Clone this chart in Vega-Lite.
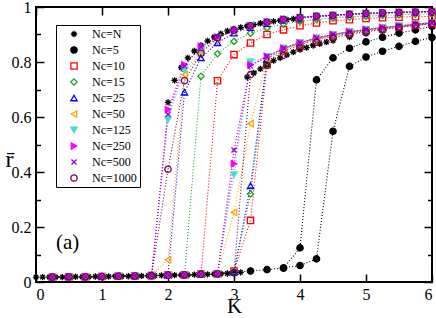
{
"$schema": "https://vega.github.io/schema/vega-lite/v6.json",
"width": 396, "height": 275,
"autosize": "none",
"padding": {"left": 36, "top": 7, "right": 4, "bottom": 36},
"background": "white",
"config": {
 "view": {"stroke": "black", "strokeWidth": 2},
 "axis": {"domain": false, "grid": false, "labelFont": "Liberation Serif", "labelFontSize": 16, "labelColor": "black", "tickColor": "black", "tickWidth": 1.5, "titleFont": "Liberation Serif", "titleFontWeight": "normal", "titleColor": "black"},
 "legend": {"strokeColor": "black", "strokeWidth": 1, "fillColor": "white", "padding": 3, "labelFont": "Liberation Serif", "labelFontSize": 12, "labelColor": "black", "symbolSize": 40, "symbolStrokeWidth": 1.3, "rowPadding": 4, "labelOffset": 12, "symbolOffset": 9}
},
"datasets": {"curves": [
{"Nc":"N","dir":"f","K":0,"r":0.018},{"Nc":"N","dir":"f","K":0.1,"r":0.018},{"Nc":"N","dir":"f","K":0.2,"r":0.018},{"Nc":"N","dir":"f","K":0.3,"r":0.018},{"Nc":"N","dir":"f","K":0.4,"r":0.018},{"Nc":"N","dir":"f","K":0.5,"r":0.019},{"Nc":"N","dir":"f","K":0.6,"r":0.019},{"Nc":"N","dir":"f","K":0.7,"r":0.019},{"Nc":"N","dir":"f","K":0.8,"r":0.019},{"Nc":"N","dir":"f","K":0.9,"r":0.02},{"Nc":"N","dir":"f","K":1.0,"r":0.02},{"Nc":"N","dir":"f","K":1.1,"r":0.02},{"Nc":"N","dir":"f","K":1.2,"r":0.021},{"Nc":"N","dir":"f","K":1.3,"r":0.021},{"Nc":"N","dir":"f","K":1.4,"r":0.021},{"Nc":"N","dir":"f","K":1.5,"r":0.022},{"Nc":"N","dir":"f","K":1.6,"r":0.022},{"Nc":"N","dir":"f","K":1.7,"r":0.023},{"Nc":"N","dir":"f","K":1.8,"r":0.023},{"Nc":"N","dir":"f","K":1.9,"r":0.024},{"Nc":"N","dir":"f","K":2.0,"r":0.025},{"Nc":"N","dir":"f","K":2.1,"r":0.025},{"Nc":"N","dir":"f","K":2.2,"r":0.026},{"Nc":"N","dir":"f","K":2.3,"r":0.026},{"Nc":"N","dir":"f","K":2.4,"r":0.027},{"Nc":"N","dir":"f","K":2.5,"r":0.028},{"Nc":"N","dir":"f","K":2.6,"r":0.028},{"Nc":"N","dir":"f","K":2.7,"r":0.029},{"Nc":"N","dir":"f","K":2.8,"r":0.03},{"Nc":"N","dir":"f","K":2.9,"r":0.031},{"Nc":"N","dir":"f","K":3.0,"r":0.033},{"Nc":"N","dir":"f","K":3.1,"r":0.035},
{"Nc":"N","dir":"f","K":3.2,"r":0.745},{"Nc":"N","dir":"f","K":3.3,"r":0.76},{"Nc":"N","dir":"f","K":3.4,"r":0.775},{"Nc":"N","dir":"f","K":3.5,"r":0.79},{"Nc":"N","dir":"f","K":3.6,"r":0.805},{"Nc":"N","dir":"f","K":3.7,"r":0.815},{"Nc":"N","dir":"f","K":3.8,"r":0.826},{"Nc":"N","dir":"f","K":3.9,"r":0.836},{"Nc":"N","dir":"f","K":4.0,"r":0.845},{"Nc":"N","dir":"f","K":4.1,"r":0.852},{"Nc":"N","dir":"f","K":4.2,"r":0.86},{"Nc":"N","dir":"f","K":4.3,"r":0.866},{"Nc":"N","dir":"f","K":4.4,"r":0.872},{"Nc":"N","dir":"f","K":4.5,"r":0.878},{"Nc":"N","dir":"f","K":4.75,"r":0.891},{"Nc":"N","dir":"f","K":5.0,"r":0.903},{"Nc":"N","dir":"f","K":5.25,"r":0.913},{"Nc":"N","dir":"f","K":5.5,"r":0.921},{"Nc":"N","dir":"f","K":5.75,"r":0.929},{"Nc":"N","dir":"f","K":6.0,"r":0.936},
{"Nc":"N","dir":"b","K":2.0,"r":0.653},{"Nc":"N","dir":"b","K":2.1,"r":0.733},{"Nc":"N","dir":"b","K":2.2,"r":0.78},{"Nc":"N","dir":"b","K":2.3,"r":0.815},{"Nc":"N","dir":"b","K":2.4,"r":0.84},{"Nc":"N","dir":"b","K":2.5,"r":0.86},{"Nc":"N","dir":"b","K":2.6,"r":0.877},{"Nc":"N","dir":"b","K":2.7,"r":0.891},{"Nc":"N","dir":"b","K":2.8,"r":0.903},{"Nc":"N","dir":"b","K":2.9,"r":0.913},{"Nc":"N","dir":"b","K":3.0,"r":0.92},{"Nc":"N","dir":"b","K":3.1,"r":0.926},{"Nc":"N","dir":"b","K":3.2,"r":0.931},{"Nc":"N","dir":"b","K":3.3,"r":0.936},{"Nc":"N","dir":"b","K":3.4,"r":0.941},{"Nc":"N","dir":"b","K":3.5,"r":0.945},{"Nc":"N","dir":"b","K":3.6,"r":0.948},{"Nc":"N","dir":"b","K":3.7,"r":0.951},{"Nc":"N","dir":"b","K":3.8,"r":0.954},{"Nc":"N","dir":"b","K":3.9,"r":0.957},{"Nc":"N","dir":"b","K":4.0,"r":0.96},{"Nc":"N","dir":"b","K":4.25,"r":0.966},{"Nc":"N","dir":"b","K":4.5,"r":0.97},{"Nc":"N","dir":"b","K":4.75,"r":0.974},{"Nc":"N","dir":"b","K":5.0,"r":0.977},{"Nc":"N","dir":"b","K":5.25,"r":0.979},{"Nc":"N","dir":"b","K":5.5,"r":0.981},{"Nc":"N","dir":"b","K":5.75,"r":0.982},{"Nc":"N","dir":"b","K":6.0,"r":0.984},

{"Nc":"5","dir":"f","K":0.25,"r":0.018},{"Nc":"5","dir":"f","K":0.5,"r":0.019},{"Nc":"5","dir":"f","K":0.75,"r":0.019},{"Nc":"5","dir":"f","K":1.0,"r":0.02},{"Nc":"5","dir":"f","K":1.25,"r":0.021},{"Nc":"5","dir":"f","K":1.5,"r":0.022},{"Nc":"5","dir":"f","K":1.75,"r":0.023},{"Nc":"5","dir":"f","K":2.0,"r":0.025},{"Nc":"5","dir":"f","K":2.25,"r":0.026},{"Nc":"5","dir":"f","K":2.5,"r":0.028},{"Nc":"5","dir":"f","K":2.75,"r":0.03},{"Nc":"5","dir":"f","K":3.0,"r":0.035},{"Nc":"5","dir":"f","K":3.25,"r":0.04},{"Nc":"5","dir":"f","K":3.5,"r":0.045},{"Nc":"5","dir":"f","K":3.75,"r":0.051},{"Nc":"5","dir":"f","K":4.0,"r":0.06},{"Nc":"5","dir":"f","K":4.25,"r":0.084},{"Nc":"5","dir":"f","K":4.5,"r":0.548},{"Nc":"5","dir":"f","K":4.75,"r":0.784},{"Nc":"5","dir":"f","K":5.0,"r":0.818},{"Nc":"5","dir":"f","K":5.25,"r":0.839},{"Nc":"5","dir":"f","K":5.5,"r":0.857},{"Nc":"5","dir":"f","K":5.75,"r":0.875},{"Nc":"5","dir":"f","K":6.0,"r":0.889},
{"Nc":"5","dir":"b","K":3.75,"r":0.051},{"Nc":"5","dir":"b","K":4.0,"r":0.124},{"Nc":"5","dir":"b","K":4.25,"r":0.735},{"Nc":"5","dir":"b","K":4.5,"r":0.815},{"Nc":"5","dir":"b","K":4.75,"r":0.85},{"Nc":"5","dir":"b","K":5.0,"r":0.873},{"Nc":"5","dir":"b","K":5.25,"r":0.89},{"Nc":"5","dir":"b","K":5.5,"r":0.905},{"Nc":"5","dir":"b","K":5.75,"r":0.917},{"Nc":"5","dir":"b","K":6.0,"r":0.93},

{"Nc":"10","dir":"f","K":0.25,"r":0.018},{"Nc":"10","dir":"f","K":0.5,"r":0.019},{"Nc":"10","dir":"f","K":0.75,"r":0.019},{"Nc":"10","dir":"f","K":1.0,"r":0.02},{"Nc":"10","dir":"f","K":1.25,"r":0.021},{"Nc":"10","dir":"f","K":1.5,"r":0.022},{"Nc":"10","dir":"f","K":1.75,"r":0.023},{"Nc":"10","dir":"f","K":2.0,"r":0.025},{"Nc":"10","dir":"f","K":2.25,"r":0.026},{"Nc":"10","dir":"f","K":2.5,"r":0.028},{"Nc":"10","dir":"f","K":2.75,"r":0.03},{"Nc":"10","dir":"f","K":3.0,"r":0.04},{"Nc":"10","dir":"f","K":3.25,"r":0.224},{"Nc":"10","dir":"f","K":3.5,"r":0.79},{"Nc":"10","dir":"f","K":3.75,"r":0.84},{"Nc":"10","dir":"f","K":4.0,"r":0.862},{"Nc":"10","dir":"f","K":4.25,"r":0.88},{"Nc":"10","dir":"f","K":4.5,"r":0.894},{"Nc":"10","dir":"f","K":4.75,"r":0.905},{"Nc":"10","dir":"f","K":5.0,"r":0.913},{"Nc":"10","dir":"f","K":5.25,"r":0.92},{"Nc":"10","dir":"f","K":5.5,"r":0.927},{"Nc":"10","dir":"f","K":5.75,"r":0.933},{"Nc":"10","dir":"f","K":6.0,"r":0.939},
{"Nc":"10","dir":"b","K":2.5,"r":0.028},{"Nc":"10","dir":"b","K":2.75,"r":0.732},{"Nc":"10","dir":"b","K":3.0,"r":0.827},{"Nc":"10","dir":"b","K":3.25,"r":0.869},{"Nc":"10","dir":"b","K":3.5,"r":0.9},{"Nc":"10","dir":"b","K":3.75,"r":0.917},{"Nc":"10","dir":"b","K":4.0,"r":0.932},{"Nc":"10","dir":"b","K":4.25,"r":0.942},{"Nc":"10","dir":"b","K":4.5,"r":0.95},{"Nc":"10","dir":"b","K":4.75,"r":0.954},{"Nc":"10","dir":"b","K":5.0,"r":0.958},{"Nc":"10","dir":"b","K":5.25,"r":0.961},{"Nc":"10","dir":"b","K":5.5,"r":0.963},{"Nc":"10","dir":"b","K":5.75,"r":0.965},{"Nc":"10","dir":"b","K":6.0,"r":0.966},

{"Nc":"15","dir":"f","K":0.25,"r":0.018},{"Nc":"15","dir":"f","K":0.5,"r":0.019},{"Nc":"15","dir":"f","K":0.75,"r":0.019},{"Nc":"15","dir":"f","K":1.0,"r":0.02},{"Nc":"15","dir":"f","K":1.25,"r":0.021},{"Nc":"15","dir":"f","K":1.5,"r":0.022},{"Nc":"15","dir":"f","K":1.75,"r":0.023},{"Nc":"15","dir":"f","K":2.0,"r":0.025},{"Nc":"15","dir":"f","K":2.25,"r":0.026},{"Nc":"15","dir":"f","K":2.5,"r":0.028},{"Nc":"15","dir":"f","K":2.75,"r":0.03},{"Nc":"15","dir":"f","K":3.0,"r":0.038},{"Nc":"15","dir":"f","K":3.25,"r":0.32},{"Nc":"15","dir":"f","K":3.5,"r":0.8},{"Nc":"15","dir":"f","K":3.75,"r":0.845},{"Nc":"15","dir":"f","K":4.0,"r":0.866},{"Nc":"15","dir":"f","K":4.25,"r":0.884},{"Nc":"15","dir":"f","K":4.5,"r":0.897},{"Nc":"15","dir":"f","K":4.75,"r":0.907},{"Nc":"15","dir":"f","K":5.0,"r":0.916},{"Nc":"15","dir":"f","K":5.25,"r":0.923},{"Nc":"15","dir":"f","K":5.5,"r":0.93},{"Nc":"15","dir":"f","K":5.75,"r":0.936},{"Nc":"15","dir":"f","K":6.0,"r":0.941},
{"Nc":"15","dir":"b","K":2.25,"r":0.026},{"Nc":"15","dir":"b","K":2.5,"r":0.748},{"Nc":"15","dir":"b","K":2.75,"r":0.83},{"Nc":"15","dir":"b","K":3.0,"r":0.875},{"Nc":"15","dir":"b","K":3.25,"r":0.905},{"Nc":"15","dir":"b","K":3.5,"r":0.924},{"Nc":"15","dir":"b","K":3.75,"r":0.938},{"Nc":"15","dir":"b","K":4.0,"r":0.948},{"Nc":"15","dir":"b","K":4.25,"r":0.955},{"Nc":"15","dir":"b","K":4.5,"r":0.96},{"Nc":"15","dir":"b","K":4.75,"r":0.964},{"Nc":"15","dir":"b","K":5.0,"r":0.967},{"Nc":"15","dir":"b","K":5.25,"r":0.97},{"Nc":"15","dir":"b","K":5.5,"r":0.972},{"Nc":"15","dir":"b","K":5.75,"r":0.974},{"Nc":"15","dir":"b","K":6.0,"r":0.975},

{"Nc":"25","dir":"f","K":0.25,"r":0.018},{"Nc":"25","dir":"f","K":0.5,"r":0.019},{"Nc":"25","dir":"f","K":0.75,"r":0.019},{"Nc":"25","dir":"f","K":1.0,"r":0.02},{"Nc":"25","dir":"f","K":1.25,"r":0.021},{"Nc":"25","dir":"f","K":1.5,"r":0.022},{"Nc":"25","dir":"f","K":1.75,"r":0.023},{"Nc":"25","dir":"f","K":2.0,"r":0.025},{"Nc":"25","dir":"f","K":2.25,"r":0.026},{"Nc":"25","dir":"f","K":2.5,"r":0.028},{"Nc":"25","dir":"f","K":2.75,"r":0.03},{"Nc":"25","dir":"f","K":3.0,"r":0.036},{"Nc":"25","dir":"f","K":3.25,"r":0.35},{"Nc":"25","dir":"f","K":3.5,"r":0.81},{"Nc":"25","dir":"f","K":3.75,"r":0.85},{"Nc":"25","dir":"f","K":4.0,"r":0.87},{"Nc":"25","dir":"f","K":4.25,"r":0.887},{"Nc":"25","dir":"f","K":4.5,"r":0.9},{"Nc":"25","dir":"f","K":4.75,"r":0.91},{"Nc":"25","dir":"f","K":5.0,"r":0.918},{"Nc":"25","dir":"f","K":5.25,"r":0.925},{"Nc":"25","dir":"f","K":5.5,"r":0.931},{"Nc":"25","dir":"f","K":5.75,"r":0.937},{"Nc":"25","dir":"f","K":6.0,"r":0.943},
{"Nc":"25","dir":"b","K":2.0,"r":0.025},{"Nc":"25","dir":"b","K":2.25,"r":0.69},{"Nc":"25","dir":"b","K":2.5,"r":0.815},{"Nc":"25","dir":"b","K":2.75,"r":0.87},{"Nc":"25","dir":"b","K":3.0,"r":0.905},{"Nc":"25","dir":"b","K":3.25,"r":0.925},{"Nc":"25","dir":"b","K":3.5,"r":0.94},{"Nc":"25","dir":"b","K":3.75,"r":0.951},{"Nc":"25","dir":"b","K":4.0,"r":0.959},{"Nc":"25","dir":"b","K":4.25,"r":0.964},{"Nc":"25","dir":"b","K":4.5,"r":0.968},{"Nc":"25","dir":"b","K":4.75,"r":0.972},{"Nc":"25","dir":"b","K":5.0,"r":0.975},{"Nc":"25","dir":"b","K":5.25,"r":0.977},{"Nc":"25","dir":"b","K":5.5,"r":0.979},{"Nc":"25","dir":"b","K":5.75,"r":0.98},{"Nc":"25","dir":"b","K":6.0,"r":0.982},

{"Nc":"50","dir":"f","K":0.25,"r":0.018},{"Nc":"50","dir":"f","K":0.5,"r":0.019},{"Nc":"50","dir":"f","K":0.75,"r":0.019},{"Nc":"50","dir":"f","K":1.0,"r":0.02},{"Nc":"50","dir":"f","K":1.25,"r":0.021},{"Nc":"50","dir":"f","K":1.5,"r":0.022},{"Nc":"50","dir":"f","K":1.75,"r":0.023},{"Nc":"50","dir":"f","K":2.0,"r":0.025},{"Nc":"50","dir":"f","K":2.25,"r":0.026},{"Nc":"50","dir":"f","K":2.5,"r":0.028},{"Nc":"50","dir":"f","K":2.75,"r":0.03},{"Nc":"50","dir":"f","K":3.0,"r":0.253},{"Nc":"50","dir":"f","K":3.25,"r":0.576},{"Nc":"50","dir":"f","K":3.5,"r":0.81},{"Nc":"50","dir":"f","K":3.75,"r":0.85},{"Nc":"50","dir":"f","K":4.0,"r":0.87},{"Nc":"50","dir":"f","K":4.25,"r":0.887},{"Nc":"50","dir":"f","K":4.5,"r":0.9},{"Nc":"50","dir":"f","K":4.75,"r":0.91},{"Nc":"50","dir":"f","K":5.0,"r":0.918},{"Nc":"50","dir":"f","K":5.25,"r":0.925},{"Nc":"50","dir":"f","K":5.5,"r":0.931},{"Nc":"50","dir":"f","K":5.75,"r":0.937},{"Nc":"50","dir":"f","K":6.0,"r":0.943},
{"Nc":"50","dir":"b","K":1.75,"r":0.023},{"Nc":"50","dir":"b","K":2.0,"r":0.081},{"Nc":"50","dir":"b","K":2.25,"r":0.754},{"Nc":"50","dir":"b","K":2.5,"r":0.838},{"Nc":"50","dir":"b","K":2.75,"r":0.885},{"Nc":"50","dir":"b","K":3.0,"r":0.913},{"Nc":"50","dir":"b","K":3.25,"r":0.931},{"Nc":"50","dir":"b","K":3.5,"r":0.944},{"Nc":"50","dir":"b","K":3.75,"r":0.954},{"Nc":"50","dir":"b","K":4.0,"r":0.961},{"Nc":"50","dir":"b","K":4.25,"r":0.966},{"Nc":"50","dir":"b","K":4.5,"r":0.97},{"Nc":"50","dir":"b","K":4.75,"r":0.974},{"Nc":"50","dir":"b","K":5.0,"r":0.977},{"Nc":"50","dir":"b","K":5.25,"r":0.979},{"Nc":"50","dir":"b","K":5.5,"r":0.981},{"Nc":"50","dir":"b","K":5.75,"r":0.982},{"Nc":"50","dir":"b","K":6.0,"r":0.984},

{"Nc":"125","dir":"f","K":0.25,"r":0.018},{"Nc":"125","dir":"f","K":0.5,"r":0.019},{"Nc":"125","dir":"f","K":0.75,"r":0.019},{"Nc":"125","dir":"f","K":1.0,"r":0.02},{"Nc":"125","dir":"f","K":1.25,"r":0.021},{"Nc":"125","dir":"f","K":1.5,"r":0.022},{"Nc":"125","dir":"f","K":1.75,"r":0.023},{"Nc":"125","dir":"f","K":2.0,"r":0.025},{"Nc":"125","dir":"f","K":2.25,"r":0.026},{"Nc":"125","dir":"f","K":2.5,"r":0.028},{"Nc":"125","dir":"f","K":2.75,"r":0.03},{"Nc":"125","dir":"f","K":3.0,"r":0.39},{"Nc":"125","dir":"f","K":3.25,"r":0.8},{"Nc":"125","dir":"f","K":3.5,"r":0.82},{"Nc":"125","dir":"f","K":3.75,"r":0.85},{"Nc":"125","dir":"f","K":4.0,"r":0.87},{"Nc":"125","dir":"f","K":4.25,"r":0.887},{"Nc":"125","dir":"f","K":4.5,"r":0.9},{"Nc":"125","dir":"f","K":4.75,"r":0.91},{"Nc":"125","dir":"f","K":5.0,"r":0.918},{"Nc":"125","dir":"f","K":5.25,"r":0.925},{"Nc":"125","dir":"f","K":5.5,"r":0.931},{"Nc":"125","dir":"f","K":5.75,"r":0.937},{"Nc":"125","dir":"f","K":6.0,"r":0.943},
{"Nc":"125","dir":"b","K":1.75,"r":0.023},{"Nc":"125","dir":"b","K":2.0,"r":0.59},{"Nc":"125","dir":"b","K":2.25,"r":0.77},{"Nc":"125","dir":"b","K":2.5,"r":0.845},{"Nc":"125","dir":"b","K":2.75,"r":0.89},{"Nc":"125","dir":"b","K":3.0,"r":0.915},{"Nc":"125","dir":"b","K":3.25,"r":0.932},{"Nc":"125","dir":"b","K":3.5,"r":0.945},{"Nc":"125","dir":"b","K":3.75,"r":0.955},{"Nc":"125","dir":"b","K":4.0,"r":0.962},{"Nc":"125","dir":"b","K":4.25,"r":0.967},{"Nc":"125","dir":"b","K":4.5,"r":0.97},{"Nc":"125","dir":"b","K":4.75,"r":0.974},{"Nc":"125","dir":"b","K":5.0,"r":0.977},{"Nc":"125","dir":"b","K":5.25,"r":0.979},{"Nc":"125","dir":"b","K":5.5,"r":0.981},{"Nc":"125","dir":"b","K":5.75,"r":0.982},{"Nc":"125","dir":"b","K":6.0,"r":0.984},

{"Nc":"250","dir":"f","K":0.25,"r":0.018},{"Nc":"250","dir":"f","K":0.5,"r":0.019},{"Nc":"250","dir":"f","K":0.75,"r":0.019},{"Nc":"250","dir":"f","K":1.0,"r":0.02},{"Nc":"250","dir":"f","K":1.25,"r":0.021},{"Nc":"250","dir":"f","K":1.5,"r":0.022},{"Nc":"250","dir":"f","K":1.75,"r":0.023},{"Nc":"250","dir":"f","K":2.0,"r":0.025},{"Nc":"250","dir":"f","K":2.25,"r":0.026},{"Nc":"250","dir":"f","K":2.5,"r":0.028},{"Nc":"250","dir":"f","K":2.75,"r":0.03},{"Nc":"250","dir":"f","K":3.0,"r":0.43},{"Nc":"250","dir":"f","K":3.25,"r":0.79},{"Nc":"250","dir":"f","K":3.5,"r":0.82},{"Nc":"250","dir":"f","K":3.75,"r":0.85},{"Nc":"250","dir":"f","K":4.0,"r":0.87},{"Nc":"250","dir":"f","K":4.25,"r":0.887},{"Nc":"250","dir":"f","K":4.5,"r":0.9},{"Nc":"250","dir":"f","K":4.75,"r":0.91},{"Nc":"250","dir":"f","K":5.0,"r":0.918},{"Nc":"250","dir":"f","K":5.25,"r":0.925},{"Nc":"250","dir":"f","K":5.5,"r":0.931},{"Nc":"250","dir":"f","K":5.75,"r":0.937},{"Nc":"250","dir":"f","K":6.0,"r":0.943},
{"Nc":"250","dir":"b","K":1.75,"r":0.023},{"Nc":"250","dir":"b","K":2.0,"r":0.627},{"Nc":"250","dir":"b","K":2.25,"r":0.79},{"Nc":"250","dir":"b","K":2.5,"r":0.857},{"Nc":"250","dir":"b","K":2.75,"r":0.89},{"Nc":"250","dir":"b","K":3.0,"r":0.915},{"Nc":"250","dir":"b","K":3.25,"r":0.932},{"Nc":"250","dir":"b","K":3.5,"r":0.945},{"Nc":"250","dir":"b","K":3.75,"r":0.955},{"Nc":"250","dir":"b","K":4.0,"r":0.962},{"Nc":"250","dir":"b","K":4.25,"r":0.967},{"Nc":"250","dir":"b","K":4.5,"r":0.97},{"Nc":"250","dir":"b","K":4.75,"r":0.974},{"Nc":"250","dir":"b","K":5.0,"r":0.977},{"Nc":"250","dir":"b","K":5.25,"r":0.979},{"Nc":"250","dir":"b","K":5.5,"r":0.981},{"Nc":"250","dir":"b","K":5.75,"r":0.982},{"Nc":"250","dir":"b","K":6.0,"r":0.984},

{"Nc":"500","dir":"f","K":0.25,"r":0.018},{"Nc":"500","dir":"f","K":0.5,"r":0.019},{"Nc":"500","dir":"f","K":0.75,"r":0.019},{"Nc":"500","dir":"f","K":1.0,"r":0.02},{"Nc":"500","dir":"f","K":1.25,"r":0.021},{"Nc":"500","dir":"f","K":1.5,"r":0.022},{"Nc":"500","dir":"f","K":1.75,"r":0.023},{"Nc":"500","dir":"f","K":2.0,"r":0.025},{"Nc":"500","dir":"f","K":2.25,"r":0.026},{"Nc":"500","dir":"f","K":2.5,"r":0.028},{"Nc":"500","dir":"f","K":2.75,"r":0.03},{"Nc":"500","dir":"f","K":3.0,"r":0.48},{"Nc":"500","dir":"f","K":3.25,"r":0.785},{"Nc":"500","dir":"f","K":3.5,"r":0.82},{"Nc":"500","dir":"f","K":3.75,"r":0.85},{"Nc":"500","dir":"f","K":4.0,"r":0.87},{"Nc":"500","dir":"f","K":4.25,"r":0.887},{"Nc":"500","dir":"f","K":4.5,"r":0.9},{"Nc":"500","dir":"f","K":4.75,"r":0.91},{"Nc":"500","dir":"f","K":5.0,"r":0.918},{"Nc":"500","dir":"f","K":5.25,"r":0.925},{"Nc":"500","dir":"f","K":5.5,"r":0.931},{"Nc":"500","dir":"f","K":5.75,"r":0.937},{"Nc":"500","dir":"f","K":6.0,"r":0.943},
{"Nc":"500","dir":"b","K":1.75,"r":0.023},{"Nc":"500","dir":"b","K":2.0,"r":0.61},{"Nc":"500","dir":"b","K":2.25,"r":0.785},{"Nc":"500","dir":"b","K":2.5,"r":0.855},{"Nc":"500","dir":"b","K":2.75,"r":0.89},{"Nc":"500","dir":"b","K":3.0,"r":0.915},{"Nc":"500","dir":"b","K":3.25,"r":0.932},{"Nc":"500","dir":"b","K":3.5,"r":0.945},{"Nc":"500","dir":"b","K":3.75,"r":0.955},{"Nc":"500","dir":"b","K":4.0,"r":0.962},{"Nc":"500","dir":"b","K":4.25,"r":0.967},{"Nc":"500","dir":"b","K":4.5,"r":0.97},{"Nc":"500","dir":"b","K":4.75,"r":0.974},{"Nc":"500","dir":"b","K":5.0,"r":0.977},{"Nc":"500","dir":"b","K":5.25,"r":0.979},{"Nc":"500","dir":"b","K":5.5,"r":0.981},{"Nc":"500","dir":"b","K":5.75,"r":0.982},{"Nc":"500","dir":"b","K":6.0,"r":0.984},

{"Nc":"1000","dir":"f","K":0.25,"r":0.018},{"Nc":"1000","dir":"f","K":0.5,"r":0.019},{"Nc":"1000","dir":"f","K":0.75,"r":0.019},{"Nc":"1000","dir":"f","K":1.0,"r":0.02},{"Nc":"1000","dir":"f","K":1.25,"r":0.021},{"Nc":"1000","dir":"f","K":1.5,"r":0.022},{"Nc":"1000","dir":"f","K":1.75,"r":0.023},{"Nc":"1000","dir":"f","K":2.0,"r":0.025},{"Nc":"1000","dir":"f","K":2.25,"r":0.026},{"Nc":"1000","dir":"f","K":2.5,"r":0.028},{"Nc":"1000","dir":"f","K":2.75,"r":0.03},{"Nc":"1000","dir":"f","K":3.0,"r":0.033},{"Nc":"1000","dir":"f","K":3.25,"r":0.754},{"Nc":"1000","dir":"f","K":3.5,"r":0.788},{"Nc":"1000","dir":"f","K":3.75,"r":0.824},{"Nc":"1000","dir":"f","K":4.0,"r":0.85},{"Nc":"1000","dir":"f","K":4.25,"r":0.872},{"Nc":"1000","dir":"f","K":4.5,"r":0.888},{"Nc":"1000","dir":"f","K":4.75,"r":0.9},{"Nc":"1000","dir":"f","K":5.0,"r":0.91},{"Nc":"1000","dir":"f","K":5.25,"r":0.918},{"Nc":"1000","dir":"f","K":5.5,"r":0.926},{"Nc":"1000","dir":"f","K":5.75,"r":0.933},{"Nc":"1000","dir":"f","K":6.0,"r":0.94},
{"Nc":"1000","dir":"b","K":1.75,"r":0.023},{"Nc":"1000","dir":"b","K":2.0,"r":0.41},{"Nc":"1000","dir":"b","K":2.25,"r":0.732},{"Nc":"1000","dir":"b","K":2.5,"r":0.832},{"Nc":"1000","dir":"b","K":2.75,"r":0.888},{"Nc":"1000","dir":"b","K":3.0,"r":0.915},{"Nc":"1000","dir":"b","K":3.25,"r":0.932},{"Nc":"1000","dir":"b","K":3.5,"r":0.945},{"Nc":"1000","dir":"b","K":3.75,"r":0.955},{"Nc":"1000","dir":"b","K":4.0,"r":0.962},{"Nc":"1000","dir":"b","K":4.25,"r":0.967},{"Nc":"1000","dir":"b","K":4.5,"r":0.97},{"Nc":"1000","dir":"b","K":4.75,"r":0.974},{"Nc":"1000","dir":"b","K":5.0,"r":0.977},{"Nc":"1000","dir":"b","K":5.25,"r":0.979},{"Nc":"1000","dir":"b","K":5.5,"r":0.981},{"Nc":"1000","dir":"b","K":5.75,"r":0.982},{"Nc":"1000","dir":"b","K":6.0,"r":0.984}
]},
"data": {"name": "curves"},
"layer": [
 {
  "transform": [{"filter": "datum.Nc != 'N'"}],
  "mark": {"type": "line", "strokeDash": [1, 2], "strokeWidth": 1.1},
  "encoding": {
   "x": {"field": "K", "type": "quantitative", "scale": {"domain": [0, 6], "nice": false},
         "axis": {"orient": "bottom", "values": [0,1,2,3,4,5,6], "tickSize": -8, "labelPadding": 12, "format": "d", "title": "K", "titleFontSize": 21, "titleBaseline": "alphabetic", "titleY": 30.5}},
   "y": {"field": "r", "type": "quantitative", "scale": {"domain": [0, 1], "nice": false},
         "axis": {"orient": "left", "values": [0,0.1,0.2,0.3,0.4,0.5,0.6,0.7,0.8,0.9,1],
                  "tickSize": {"condition": {"test": "round(datum.value*10) % 2 == 0", "value": -8}, "value": -4.5},
                  "labelPadding": 13,
                  "labelExpr": "round(datum.value*10) % 2 == 0 ? format(datum.value, '~g') : ''",
                  "title": "r\u0304", "titleFontSize": 24, "titleAngle": 0, "titleAlign": "center", "titleBaseline": "alphabetic", "titleX": -27, "titleY": 159}},
   "color": {"field": "Nc", "type": "nominal", "legend": null,
     "scale": {"domain": ["5","10","15","25","50","125","250","500","1000"], "range": ["#000000","#FF0000","#22A022","#0000FF","#FFA500","#40E0D0","#FF00FF","#9400D3","#670748"]}},
   "detail": {"field": "dir"}
  }
 },
 {
  "mark": {"type": "point", "size": 40, "strokeWidth": 1.3, "opacity": 1},
  "encoding": {
   "x": {"field": "K", "type": "quantitative", "scale": {"domain": [0, 6], "nice": false},
         "axis": {"orient": "top", "values": [0,1,2,3,4,5,6], "tickSize": -8, "labels": false, "title": null}},
   "y": {"field": "r", "type": "quantitative", "scale": {"domain": [0, 1], "nice": false},
         "axis": {"orient": "right", "values": [0,0.1,0.2,0.3,0.4,0.5,0.6,0.7,0.8,0.9,1],
                  "tickSize": {"condition": {"test": "round(datum.value*10) % 2 == 0", "value": -8}, "value": -4.5},
                  "labels": false, "title": null}},
   "stroke": {"field": "Nc", "type": "nominal",
     "scale": {"domain": ["N","5","10","15","25","50","125","250","500","1000"], "range": ["#000000","#000000","#FF0000","#22A022","#0000FF","#FFA500","#40E0D0","#FF00FF","#9400D3","#670748"]},
     "legend": {"title": null, "orient": "none", "legendX": 20, "legendY": 18, "labelExpr": "'Nc=' + datum.label"}},
   "fill": {"field": "Nc", "type": "nominal",
     "scale": {"domain": ["N","5","10","15","25","50","125","250","500","1000"], "range": ["transparent","#000000","transparent","transparent","transparent","transparent","#40E0D0","#FF00FF","transparent","transparent"]},
     "legend": {"title": null, "orient": "none", "legendX": 20, "legendY": 18, "labelExpr": "'Nc=' + datum.label"}},
   "shape": {"field": "Nc", "type": "nominal",
     "scale": {"domain": ["N","5","10","15","25","50","125","250","500","1000"], "range": ["M-1,0L1,0M0,-1L0,1M-0.7,-0.7L0.7,0.7M-0.7,0.7L0.7,-0.7","circle","square","diamond","triangle-up","triangle-left","triangle-down","triangle-right","M-0.8,-0.8L0.8,0.8M-0.8,0.8L0.8,-0.8","circle"]},
     "legend": {"title": null, "orient": "none", "legendX": 20, "legendY": 18, "labelExpr": "'Nc=' + datum.label"}}
  }
 },
 {
  "data": {"values": [{"label": "(a)"}]},
  "mark": {"type": "text", "font": "Liberation Serif", "fontSize": 21, "align": "center", "baseline": "middle", "color": "black"},
  "encoding": {
   "x": {"datum": 0.48, "type": "quantitative", "axis": null},
   "y": {"datum": 0.143, "type": "quantitative", "axis": null},
   "text": {"field": "label"}
  }
 }
],
"resolve": {"axis": {"x": "independent", "y": "independent"}}
}
